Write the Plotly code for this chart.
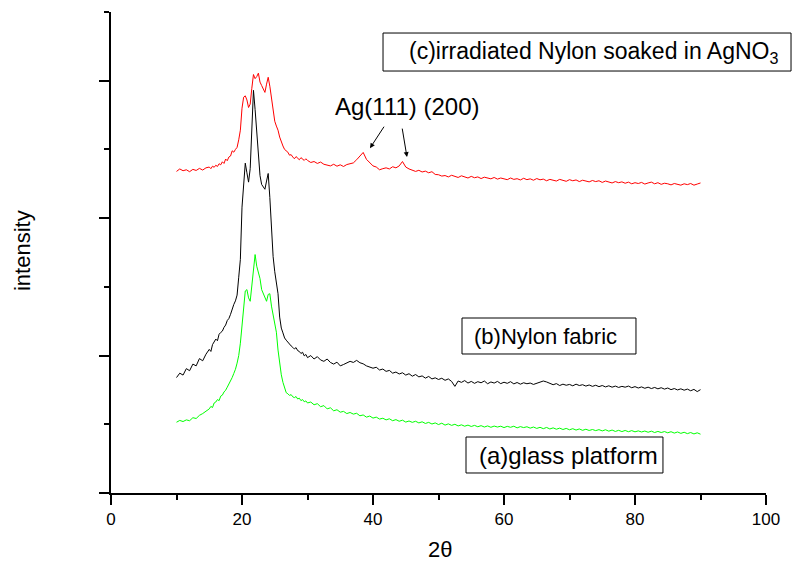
import numpy as np
import plotly.graph_objects as go

# 2-theta grid (degrees): coarse tails, finer sampling over the main peak
two_theta = np.concatenate([
    np.arange(10, 15, 0.5),
    np.arange(15, 30, 0.25),
    np.arange(30, 90.001, 0.5),
])

# (a) glass platform
glass_a1 = [515, 528, 520, 532, 526, 548, 542, 565, 578, 598]
glass_a2 = [612, 630, 622, 655, 662, 680, 672, 705, 712, 735, 748, 770, 790, 815, 840, 870,
            900, 945, 1000, 1090, 1200, 1350, 1470, 1480, 1420, 1395, 1500, 1620, 1735, 1650,
            1610, 1560, 1480, 1450, 1420, 1395, 1445, 1450, 1360, 1290, 1230, 1170, 1040, 930,
            860, 805, 760, 730, 722, 710, 716, 700, 694, 702, 684, 690, 672, 680, 664, 670]
glass_a3 = [655, 662, 642, 650, 628, 636, 612, 620, 598, 606, 588, 594, 578, 586, 574, 580,
            562, 568, 552, 560, 545, 552, 538, 544, 532, 540, 526, 534, 522, 530, 516, 524,
            514, 522, 510, 518, 506, 514, 502, 510, 498, 508, 494, 503, 492, 500, 488, 496,
            486, 494, 484, 492, 482, 490, 480, 488, 478, 487, 480, 486, 476, 485, 478, 486,
            474, 483, 476, 482, 472, 480, 470, 478, 468, 477, 466, 474, 464, 472, 462, 470,
            460, 468, 458, 466, 456, 464, 455, 462, 454, 461, 452, 460, 450, 458, 448, 456,
            447, 455, 446, 454, 445, 452, 444, 451, 442, 450, 440, 448, 440, 447, 438, 446,
            436, 444, 434, 442, 432, 440, 430, 438, 428]

# (b) Nylon fabric
nylon_b1 = [840, 872, 858, 905, 890, 938, 925, 978, 962, 1010]
nylon_b2 = [1045, 1030, 1080, 1098, 1120, 1108, 1155, 1168, 1178, 1205, 1222, 1255, 1270, 1300,
            1345, 1372, 1398, 1440, 1570, 1700, 2080, 2280, 2400, 2330, 2262, 2360, 2650, 2930,
            2790, 2650, 2480, 2310, 2245, 2225, 2210, 2270, 2325, 2150, 1890, 1720, 1610, 1530,
            1450, 1280, 1200, 1165, 1128, 1112, 1095, 1080, 1070, 1060, 1048, 1058, 1036, 1030,
            1015, 1024, 998, 1008]
nylon_b3 = [985, 1000, 975, 992, 968, 958, 975, 950, 938, 952, 925, 935, 945, 958, 950, 965,
            948, 940, 925, 918, 908, 915, 895, 902, 885, 892, 872, 880, 866, 875, 858, 868,
            850, 862, 845, 852, 836, 848, 830, 838, 826, 835, 820, 830, 812, 776, 815, 805,
            818, 800, 812, 798, 810, 802, 815, 795, 808, 800, 812, 796, 806, 798, 810, 794,
            804, 792, 802, 795, 800, 790, 798, 805, 815, 808, 795, 788, 796, 782, 792, 784,
            790, 780, 792, 782, 788, 778, 786, 776, 784, 774, 782, 772, 780, 770, 778, 768,
            776, 770, 778, 766, 774, 764, 772, 762, 770, 760, 768, 758, 766, 756, 764, 752,
            760, 750, 758, 748, 756, 744, 754, 738, 752]

# (c) irradiated Nylon soaked in AgNO3
ag_c1 = [2340, 2358, 2345, 2352, 2338, 2355, 2347, 2362, 2350, 2366]
ag_c2 = [2372, 2360, 2378, 2370, 2385, 2376, 2396, 2388, 2410, 2398, 2430, 2418, 2445, 2452,
         2490, 2480, 2500, 2515, 2570, 2640, 2800, 2880, 2890, 2860, 2805, 2830, 2945, 3045,
         3015, 3030, 3055, 2990, 2965, 2940, 2915, 2975, 3025, 2960, 2880, 2785, 2705, 2670,
         2640, 2590, 2550, 2525, 2500, 2487, 2480, 2458, 2462, 2445, 2432, 2448, 2436, 2425,
         2440, 2428, 2420, 2432]
ag_c3 = [2420, 2405, 2412, 2398, 2408, 2392, 2388, 2380, 2392, 2378, 2388, 2376, 2390, 2395,
         2402, 2425, 2448, 2478, 2428, 2405, 2380, 2372, 2352, 2360, 2366, 2358, 2374, 2366,
         2380, 2412, 2372, 2358, 2350, 2340, 2348, 2336, 2342, 2330, 2338, 2318, 2316, 2306,
         2310, 2300, 2312, 2302, 2296, 2308, 2298, 2292, 2304, 2294, 2300, 2288, 2298, 2290,
         2286, 2296, 2284, 2292, 2288, 2280, 2292, 2282, 2287, 2278, 2290, 2280, 2286, 2276,
         2288, 2279, 2284, 2272, 2282, 2276, 2270, 2282, 2274, 2268, 2280, 2272, 2278, 2266,
         2276, 2270, 2264, 2274, 2266, 2272, 2260, 2270, 2262, 2256, 2266, 2258, 2264, 2254,
         2262, 2250, 2258, 2252, 2260, 2248, 2256, 2262, 2250, 2258, 2246, 2254, 2250, 2242,
         2252, 2246, 2240, 2250, 2244, 2252, 2240, 2248, 2256]

glass = glass_a1 + glass_a2 + glass_a3
nylon = nylon_b1 + nylon_b2 + nylon_b3
silver = ag_c1 + ag_c2 + ag_c3
assert len(glass) == len(two_theta), (len(glass), len(two_theta))
assert len(nylon) == len(two_theta), (len(nylon), len(two_theta))
assert len(silver) == len(two_theta), (len(silver), len(two_theta))

FONT = "Liberation Sans, Arial, sans-serif"

fig = go.Figure()
fig.add_trace(go.Scatter(x=two_theta, y=glass, mode="lines",
                         line=dict(color="#00FF00", width=1), name="(a)glass platform"))
fig.add_trace(go.Scatter(x=two_theta, y=nylon, mode="lines",
                         line=dict(color="#000000", width=1), name="(b)Nylon fabric"))
fig.add_trace(go.Scatter(x=two_theta, y=silver, mode="lines",
                         line=dict(color="#FF0000", width=1),
                         name="(c)irradiated Nylon soaked in AgNO3"))

axis_common = dict(showgrid=False, zeroline=False, showline=True, linecolor="black",
                   linewidth=2, ticks="outside", ticklen=10, tickwidth=2, tickcolor="black")

fig.update_xaxes(range=[0, 100], dtick=20, tick0=0, **axis_common,
                 tickfont=dict(family=FONT, size=17, color="black"),
                 minor=dict(dtick=10, ticks="outside", ticklen=5, tickwidth=2, tickcolor="black"))
fig.update_yaxes(range=[0, 3500], dtick=1000, tick0=0, showticklabels=False, **axis_common,
                 minor=dict(dtick=500, ticks="outside", ticklen=5, tickwidth=2, tickcolor="black"))

# label boxes (paper coords)
boxes = [
    (0.4153, 0.8773, 1.0382, 0.9563),
    (0.5359, 0.2890, 0.8015, 0.3638),
    (0.5420, 0.0416, 0.8427, 0.1164),
]
shapes = [dict(type="rect", xref="paper", yref="paper", x0=a, y0=b, x1=c, y1=d,
               line=dict(color="black", width=1), fillcolor="rgba(0,0,0,0)", layer="above")
          for a, b, c, d in boxes]

annots = [
    dict(text="(c)irradiated Nylon soaked in AgNO<sub>3</sub>", x=0.4519, y=0.9168, size=23),
    dict(text="(b)Nylon fabric", x=0.5516, y=0.3264, size=22),
    dict(text="(a)glass platform", x=0.5583, y=0.0790, size=24),
    dict(text="Ag(111) (200)", x=0.3389, y=0.8025, size=24),
]
annotations = [dict(xref="paper", yref="paper", xanchor="left", yanchor="middle",
                    showarrow=False, text=a["text"], x=a["x"], y=a["y"],
                    font=dict(family=FONT, size=a["size"], color="black"))
               for a in annots]
# arrows pointing at the silver peaks
annotations += [
    dict(x=39.54, y=2509, xref="x", yref="y", text="", showarrow=True, ax=15, ay=-23,
         arrowhead=2, arrowsize=1, arrowwidth=1, arrowcolor="black"),
    dict(x=45.19, y=2444, xref="x", yref="y", text="", showarrow=True, ax=-5, ay=-30,
         arrowhead=2, arrowsize=1, arrowwidth=1, arrowcolor="black"),
]
# axis titles
annotations += [
    dict(text="2θ", xref="paper", yref="paper", x=0.502, y=-0.1185, showarrow=False,
         xanchor="center", yanchor="middle", font=dict(family=FONT, size=22, color="black")),
    dict(text="intensity", xref="paper", yref="paper", x=-0.136, y=0.505, showarrow=False,
         textangle=-90, xanchor="center", yanchor="middle",
         font=dict(family=FONT, size=22, color="black")),
]

fig.update_layout(
    width=801, height=568,
    margin=dict(l=111, r=35, t=12, b=75),
    plot_bgcolor="white", paper_bgcolor="white",
    showlegend=False,
    shapes=shapes, annotations=annotations,
    font=dict(family=FONT, color="black"),
)

fig.write_html("out.html")
